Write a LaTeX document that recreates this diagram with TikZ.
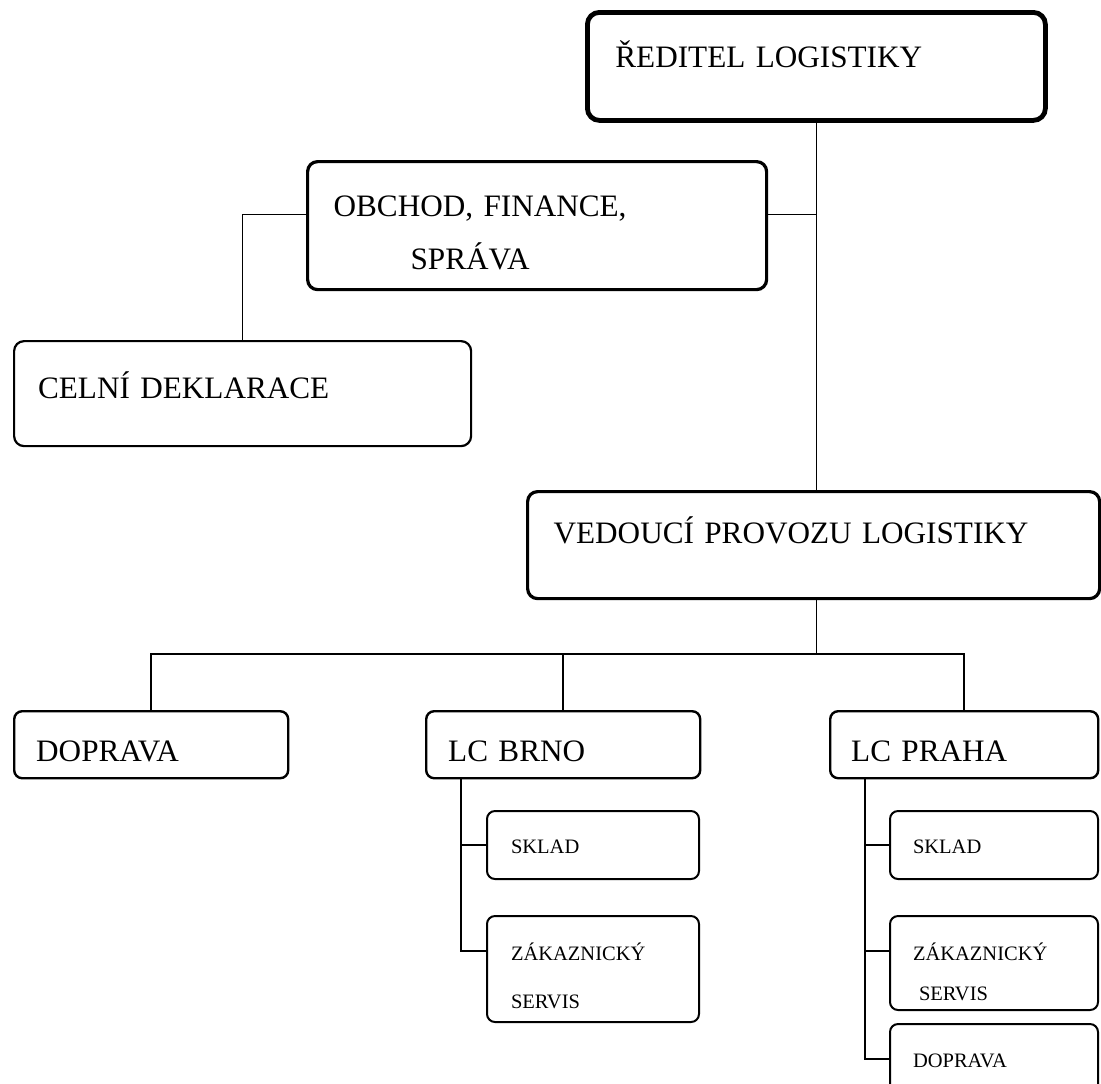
\documentclass[tikz,border=0pt]{standalone}
\usepackage{fontspec}
\setmainfont{Liberation Serif}
\usetikzlibrary{positioning}
\newcommand{\bigtxt}{\fontsize{15.6}{26.5}\selectfont}
\newcommand{\smalltxt}{\fontsize{10.25}{24}\selectfont}

\begin{document}
\begin{tikzpicture}[x=0.5pt,y=-0.5pt,
 unit/.style={draw,rounded corners=5pt,anchor=north west,align=left,inner ysep=0pt,font=\bigtxt},
 subunit/.style={draw,rounded corners=4pt,anchor=north west,align=left,inner ysep=0pt,
 line width=1pt,font=\smalltxt,text width=82pt,inner xsep=12pt},
 link/.style={line width=0.85pt}]
\useasboundingbox (0,0) rectangle (1101,1083);
% top level
\node[unit,line width=2.4pt,rounded corners=6pt,text width=201pt,inner xsep=14pt,
 text height=27.5pt,text depth=26.5pt] (dir) at (585,10) {ŘEDITEL LOGISTIKY};
\node[unit,line width=1.6pt,text width=203.5pt,inner xsep=13pt,
 text height=27.5pt,text depth=36.5pt] (obch) at (306,160) {OBCHOD, FINANCE,\\\hspace*{38.5pt}SPRÁVA};
\node[unit,line width=1.1pt,text width=204.5pt,inner xsep=12pt,
 text height=28.5pt,text depth=24pt] (celni) at (13,340) {CELNÍ DEKLARACE};
\node[unit,line width=1.6pt,text width=260pt,inner xsep=13pt,
 text height=26pt,text depth=27.5pt] (ved) at (526,490) {VEDOUCÍ PROVOZU LOGISTIKY};
% second row
\node[unit,line width=1.2pt,rounded corners=4pt,text width=115pt,inner xsep=11pt,
 text height=25pt,text depth=8.5pt] (dop) at (13,710) {DOPRAVA};
\node[unit,line width=1.2pt,rounded corners=4pt,text width=115pt,inner xsep=11pt,
 text height=25pt,text depth=8.5pt] (brno) at (425,710) {LC BRNO};
\node[unit,line width=1.2pt,rounded corners=4pt,text width=113pt,inner xsep=10.5pt,
 text height=25pt,text depth=8.5pt] (praha) at (829,710) {LC PRAHA};
% LC Brno
\node[subunit,text height=21pt,text depth=13pt] (bsklad) at (486,810) {SKLAD};
\node[subunit,text height=22pt,text depth=31pt,below=17.5pt of bsklad.south west,anchor=north west] (bzak) {ZÁKAZNICKÝ\\SERVIS};
% LC Praha
\node[subunit,text width=81pt,inner xsep=11.5pt,text height=21pt,text depth=13pt] (psklad) at (889,810) {SKLAD};
\node[subunit,text width=81pt,inner xsep=11.5pt,text height=22pt,text depth=25pt,
 font=\fontsize{10.25}{20}\selectfont,below=17.5pt of psklad.south west,anchor=north west] (pzak) {ZÁKAZNICKÝ\\\hspace*{3pt}SERVIS};
\node[subunit,text width=81pt,inner xsep=11.5pt,text height=21.5pt,text depth=13.5pt,
 below=6pt of pzak.south west,anchor=north west] (pdop) {DOPRAVA};
% connectors
\coordinate (bus) at (0,654);
\draw[link] (dir.south) -- (dir.south |- ved.north);
\draw[link] ([yshift=5.5pt]obch.east) -- ([yshift=5.5pt]obch.east -| dir.south);
\draw[link] ([yshift=5.5pt]obch.west) -| (celni.north);
\draw[link] (dir.south |- ved.south) -- (dir.south |- bus);
\draw[link] (dop.north) |- (praha.north |- bus) -- (praha.north);
\draw[link] (brno.north) -- (brno.north |- bus);
\draw[link] ([xshift=18pt]brno.south west) |- ([yshift=9pt]bzak.west);
\draw[link] (bsklad.west) -| ([xshift=18pt]brno.south west);
\draw[link] ([xshift=18pt]praha.south west) |- (pdop.west);
\draw[link] (psklad.west) -| ([xshift=18pt]praha.south west);
\draw[link] ([yshift=6pt]pzak.west) -| ([xshift=18pt]praha.south west);
\end{tikzpicture}
\end{document}
